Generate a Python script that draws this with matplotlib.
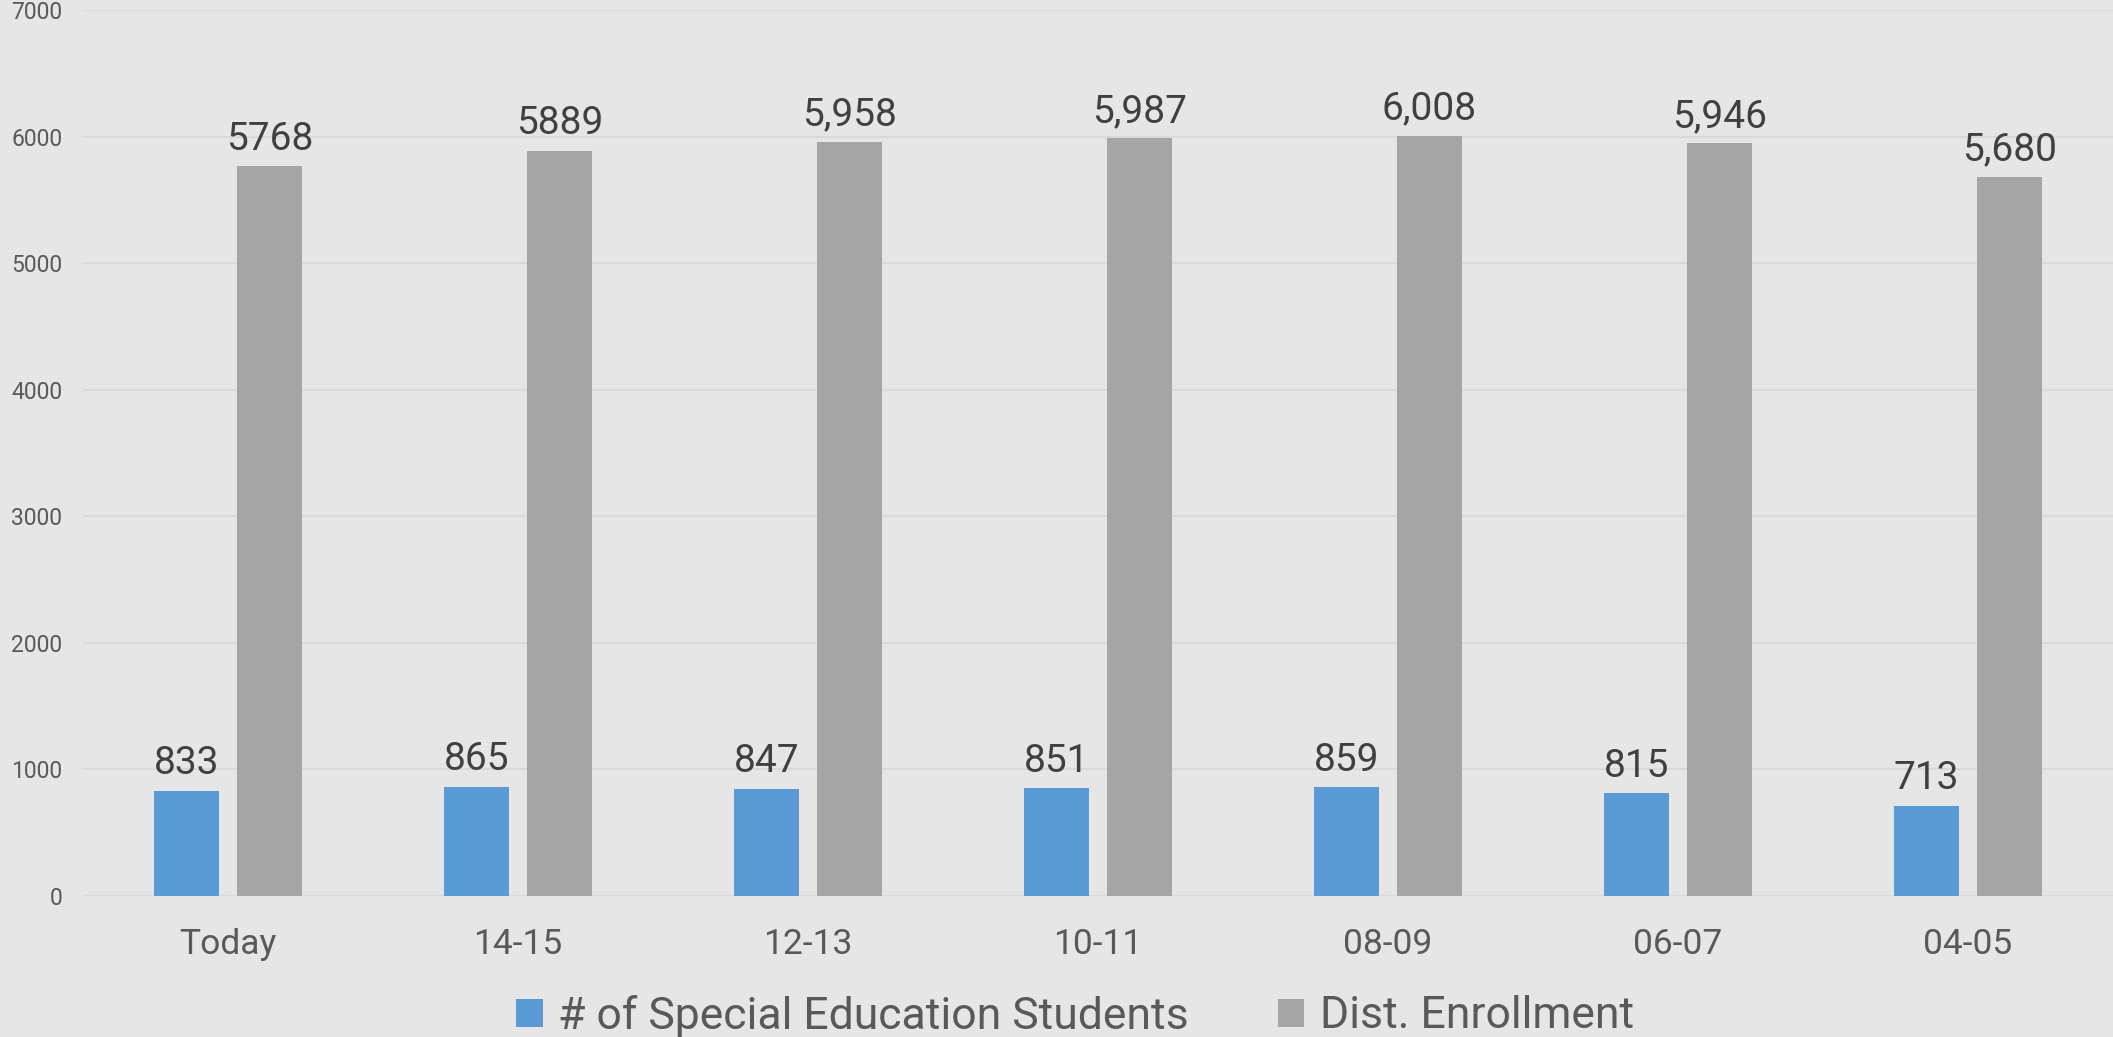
import numpy as np
import matplotlib.pyplot as plt

plt.rcParams['font.family'] = ['Roboto', 'DejaVu Sans']

# chart data
years = ['Today', '14-15', '12-13', '10-11', '08-09', '06-07', '04-05']
special_ed = [833, 865, 847, 851, 859, 815, 713]
enrollment = [5768, 5889, 5958, 5987, 6008, 5946, 5680]
special_ed_labels = ['833', '865', '847', '851', '859', '815', '713']
enrollment_labels = ['5768', '5889', '5,958', '5,987', '6,008', '5,946', '5,680']
yticks = [0, 1000, 2000, 3000, 4000, 5000, 6000, 7000]

bg = '#e7e6e6'
blue = '#5b9bd5'
gray = '#a5a5a5'

fig = plt.figure(figsize=(21.13, 10.37), dpi=100, facecolor=bg)
ax = fig.add_axes([83 / 2113, 141 / 1037, 2030 / 2113, 886 / 1037])
ax.set_facecolor(bg)

x = np.arange(len(years))
w = 0.224
off = 0.143
b1 = ax.bar(x - off, special_ed, w, color=blue, label='# of Special Education Students', zorder=3)
b2 = ax.bar(x + off, enrollment, w, color=gray, label='Dist. Enrollment', zorder=3)

ax.bar_label(b1, labels=special_ed_labels, padding=6, fontsize=28, color='#404040')
ax.bar_label(b2, labels=enrollment_labels, padding=6, fontsize=28, color='#404040')

ax.set_xlim(-0.5, len(years) - 0.5)
ax.set_ylim(0, 7000)
ax.set_yticks(yticks)
ax.set_yticklabels([str(t) for t in yticks])
ax.set_xticks(x)
ax.set_xticklabels(years)
ax.tick_params(axis='y', length=0, pad=15, labelsize=16.5, labelcolor='#595959')
ax.tick_params(axis='x', length=0, pad=23, labelsize=25.5, labelcolor='#595959')
ax.grid(axis='y', color='#d9d9d9', linewidth=1.5, zorder=0)
for s in ax.spines.values():
    s.set_visible(False)

fig.legend(loc='center', bbox_to_anchor=(1075 / 2113, 1 - 1016 / 1037), ncol=2,
           frameon=False, fontsize=32, labelcolor='#595959', handlelength=0.6,
           handleheight=0.6, handletextpad=0.35, columnspacing=2.0)

fig.savefig('out.png', dpi=100, facecolor=bg)
